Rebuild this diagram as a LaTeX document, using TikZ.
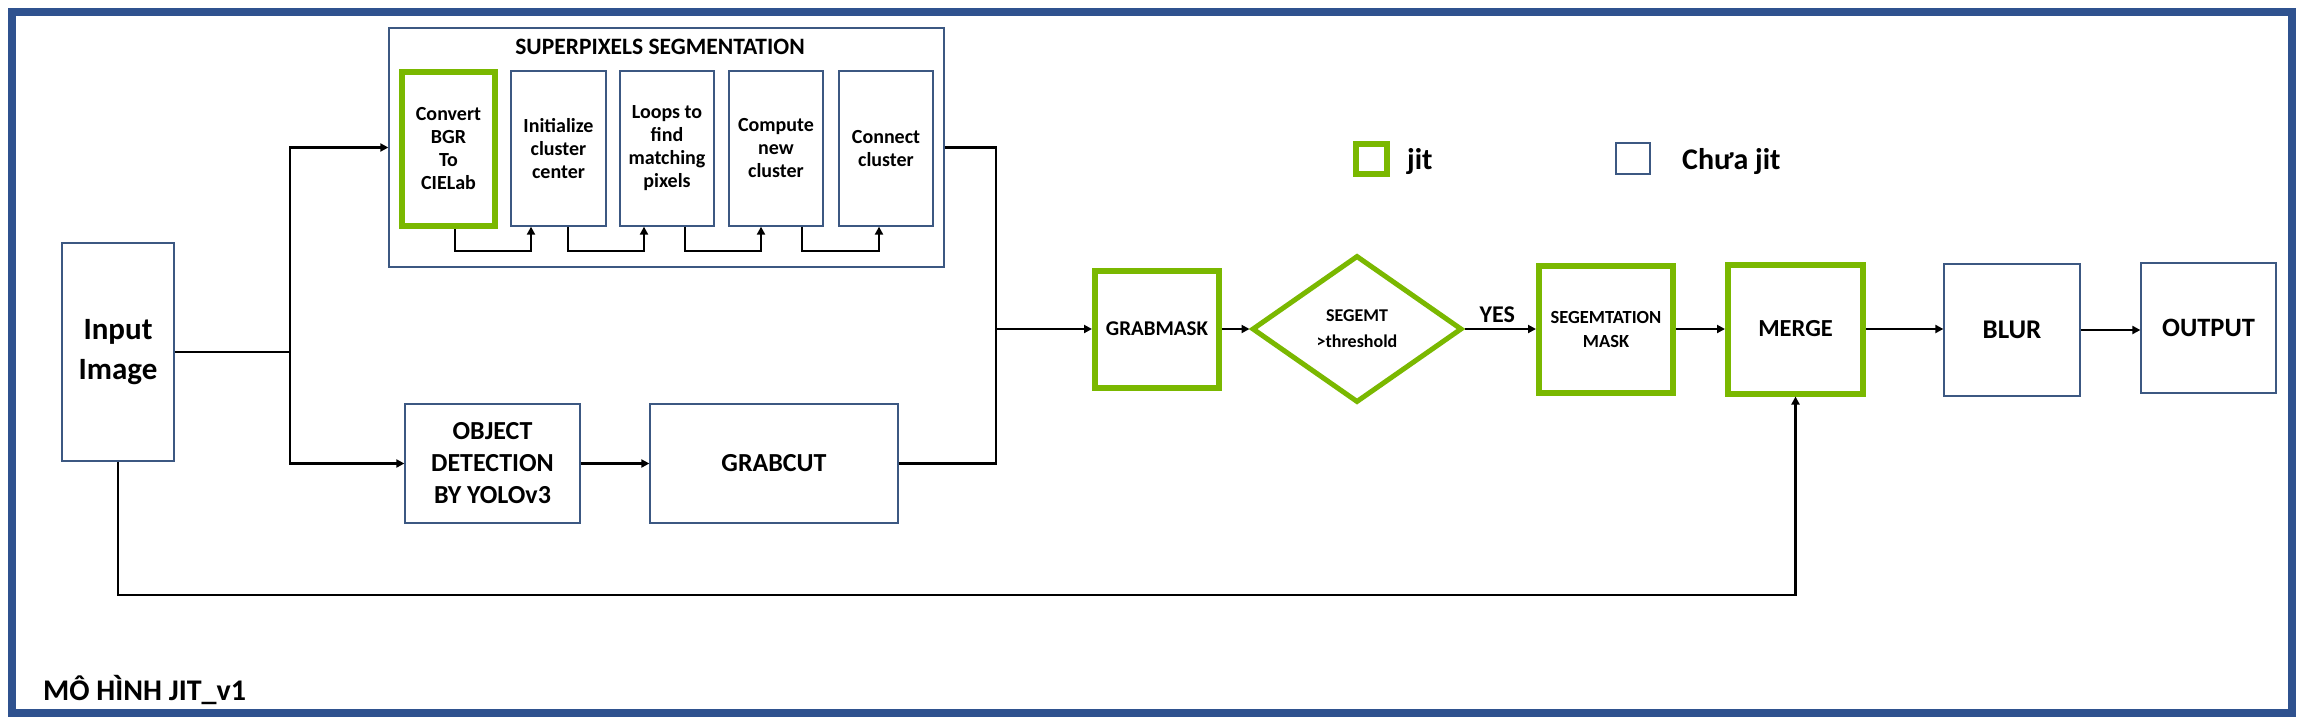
\documentclass[tikz,border=0pt]{standalone}
\usepackage{fontspec}
\setmainfont{Carlito}
\usetikzlibrary{arrows.meta,shapes.geometric}
\definecolor{jgreen}{RGB}{122,184,0}
\definecolor{fblue}{RGB}{47,82,143}
\definecolor{tblue}{RGB}{60,88,130}
\begin{document}
\begin{tikzpicture}[x=1pt,y=-1pt,
  box/.style={draw=tblue, line width=1.3pt, inner sep=0pt, align=center},
  gbox/.style={draw=jgreen, line width=6pt, inner sep=0pt, align=center},
  small/.style={font=\bfseries\fontsize{20}{23}\selectfont},
  mid/.style={font=\bfseries\fontsize{26}{32}\selectfont},
  conn/.style={line width=2.8pt, black},
  arr/.style={conn, -{Triangle[length=8pt,width=8pt]}},
  lbl/.style={inner sep=0pt, font=\bfseries\fontsize{30}{36}\selectfont}
]
\useasboundingbox (0,0) rectangle (2304,720);
\fill[white] (0,0) rectangle (2304,720);
\draw[fblue, line width=8pt] (12,12) rectangle (2292,713);

% superpixels group
\node[box, minimum width=555pt, minimum height=239pt] (sp) at (666.5,147.5) {};
\node[inner sep=0pt, font=\bfseries\fontsize{23.5}{28}\selectfont] (sptitle) at (660,47) {SUPERPIXELS SEGMENTATION};
\node[gbox, small, minimum width=93pt, minimum height=154pt] (conv) at (448.5,149) {Convert\\BGR\\To\\CIELab};
\node[box, small, minimum width=95pt, minimum height=155pt] (init) at (558.5,148.5) {Initialize\\cluster\\center};
\node[box, small, minimum width=94pt, minimum height=155pt] (loops) at (667,148.5) {Loops to\\find\\matching\\pixels};
\node[box, small, minimum width=94pt, minimum height=155pt] (comp) at (776,148.5) {Compute\\new\\cluster};
\node[box, small, minimum width=94pt, minimum height=155pt] (conn) at (886,148.5) {Connect\\cluster};

\coordinate (b1) at (455,251); \coordinate (e1) at (531,251);
\coordinate (b2) at (568,251); \coordinate (e2) at (644,251);
\coordinate (b3) at (685,251); \coordinate (e3) at (761,251);
\coordinate (b4) at (802,251); \coordinate (e4) at (879,251);
\draw[arr] (conv.south -| b1) -- (b1) -- (e1) -- (init.south -| e1);
\draw[arr] (init.south -| b2) -- (b2) -- (e2) -- (loops.south -| e2);
\draw[arr] (loops.south -| b3) -- (b3) -- (e3) -- (comp.south -| e3);
\draw[arr] (comp.south -| b4) -- (b4) -- (e4) -- (conn.south -| e4);

% left part
\node[box, font=\bfseries\fontsize{31}{40}\selectfont, minimum width=112pt, minimum height=218pt] (input) at (118,352) {Input\\Image};
\node[box, mid, minimum width=175pt, minimum height=119pt] (obj) at (492.5,463.5) {OBJECT\\DETECTION\\BY YOLOv3};
\node[box, mid, minimum width=248pt, minimum height=119pt] (gcut) at (774,463.5) {GRABCUT};

\coordinate (split) at (290,352);
\draw[conn] (input.east) -- (split);
\draw[arr] (split) |- (sp.west);
\draw[arr] (split) |- (obj.west);
\draw[arr] (obj.east) -- (gcut.west);

% right part
\node[gbox, font=\bfseries\fontsize{21}{25}\selectfont, minimum width=124pt, minimum height=117pt] (gmask) at (1157,329) {GRABMASK};
\node[diamond, draw=jgreen, line width=5pt, inner sep=0pt, align=center, minimum width=210pt, minimum height=147pt,
  font=\bfseries\fontsize{18}{26}\selectfont] (dia) at (1357,329) {SEGEMT\\>threshold};
\node[gbox, font=\bfseries\fontsize{18.5}{24}\selectfont, minimum width=134pt, minimum height=127pt] (smask) at (1606,329) {SEGEMTATION\\MASK};
\node[gbox, font=\bfseries\fontsize{24.5}{30}\selectfont, minimum width=135pt, minimum height=129pt] (merge) at (1795.5,329) {MERGE};
\node[box, font=\bfseries\fontsize{27}{32}\selectfont, minimum width=136pt, minimum height=132pt] (blur) at (2012,330) {BLUR};
\node[box, font=\bfseries\fontsize{26.5}{32}\selectfont, minimum width=135pt, minimum height=130pt] (out) at (2208.5,328) {OUTPUT};

\coordinate (j) at (996,329);
\draw[conn] (sp.east) -| (j);
\draw[conn] (gcut.east) -| (j);
\draw[arr] (j) -- (gmask.west);
\draw[arr] (gmask.east) -- (dia.west);
\draw[arr] (dia.east) -- node[above=5pt, xshift=-3pt, inner sep=0pt, font=\bfseries\fontsize{24}{28}\selectfont] {YES} (smask.west);
\draw[arr] (smask.east) -- (merge.west);
\draw[arr] (merge.east) -- (merge.east -| blur.west);
\draw[arr] (blur.east) -- (blur.east -| out.west);

\coordinate (bl) at (118,595);
\draw[arr] (input.south) -- (bl) -| (merge.south);

% legend
\node[draw=jgreen, line width=5.5pt, inner sep=0pt, minimum width=31pt, minimum height=30pt] (lg) at (1371.5,159) {};
\node[lbl, anchor=base west] (lgt) at (1407,169) {jit};
\node[draw=tblue, line width=1.3pt, inner sep=0pt, minimum width=34pt, minimum height=31pt] (lb) at (1633,158.5) {};
\node[lbl, anchor=base west] (lbt) at (1682,169) {Chưa jit};

\node[lbl, anchor=base west] (title) at (43,700) {MÔ HÌNH JIT\_v1};
\end{tikzpicture}
\end{document}
